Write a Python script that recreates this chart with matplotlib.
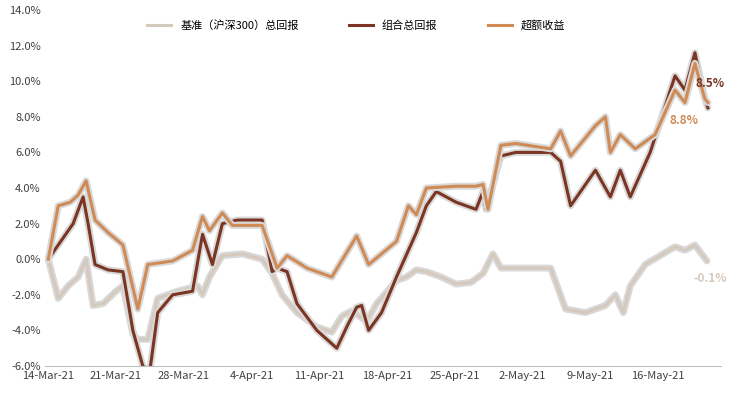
import matplotlib.pyplot as plt
import matplotlib.dates as mdates
import numpy as np
import datetime as dt

plt.rcParams['font.family'] = ['Noto Sans CJK SC', 'DejaVu Sans']

start = dt.datetime(2021, 3, 14)

# pixel positions -> day offsets
bench_px = [50,60,70,80,88,95,105,118,125,135,140,150,160,180,200,205,212,225,245,265,275,285,300,320,335,345,355,370,380,400,410,420,430,445,460,475,487,497,505,540,555,570,590,610,620,628,635,650,665,680,690,700,712]
bench = [0,-2.2,-1.5,-1.0,0,-2.6,-2.5,-1.8,-1.5,-4.2,-4.5,-4.5,-2.2,-1.8,-1.5,-2.0,-1.0,0.2,0.3,0.0,-0.8,-2.0,-3.0,-3.8,-4.1,-3.2,-2.9,-3.5,-2.5,-1.2,-1.0,-0.6,-0.7,-1.0,-1.4,-1.3,-0.8,0.3,-0.5,-0.5,-0.5,-2.8,-3.0,-2.6,-2.0,-3.0,-1.5,-0.3,0.2,0.7,0.5,0.8,-0.1]

combo_px = [50,60,75,85,90,97,110,125,135,145,152,160,175,195,205,215,225,240,265,275,280,290,300,320,340,350,360,365,372,385,400,420,430,440,460,480,487,490,505,520,555,565,575,600,615,625,635,655,680,690,700,710,713]
combo = [0,0.8,2.0,3.5,2.0,-0.3,-0.6,-0.7,-4.0,-6.0,-6.3,-3.0,-2.0,-1.8,1.4,-0.3,2.0,2.2,2.2,-0.7,-0.5,-0.7,-2.5,-4.0,-5.0,-3.8,-2.7,-2.6,-4.0,-3.0,-1.0,1.5,3.0,3.8,3.2,2.8,3.8,2.8,5.8,6.0,6.0,5.5,3.0,5.0,3.5,5.0,3.5,6.0,10.3,9.5,11.6,9.0,8.5]

excess_px = [50,60,72,80,88,97,110,125,140,150,175,195,205,212,225,235,265,280,290,310,335,360,372,400,412,420,430,460,480,487,492,505,520,555,565,575,600,610,615,625,640,660,680,690,700,710,713]
excess = [0,3.0,3.2,3.6,4.4,2.2,1.5,0.8,-2.8,-0.3,-0.1,0.5,2.4,1.6,2.6,1.9,1.9,-0.5,0.2,-0.5,-1.0,1.3,-0.3,1.0,3.0,2.5,4.0,4.1,4.1,4.2,2.8,6.4,6.5,6.2,7.2,5.8,7.5,8.0,6.0,7.0,6.2,7.0,9.5,8.8,11.0,9.0,8.8]

def to_dates(px):
    return [start + dt.timedelta(days=(p - 50) / 9.73) for p in px]

c_bench = '#d5c9bd'
c_combo = '#7b3522'
c_excess = '#d08a55'
halo = '#d9d9d9'

fig, ax = plt.subplots(figsize=(7.32, 4.0), dpi=100)
fig.subplots_adjust(left=0.062, right=0.985, top=0.975, bottom=0.085)

for px, ys, col, lab in [(bench_px, bench, c_bench, '基准（沪深300）总回报'),
                         (combo_px, combo, c_combo, '组合总回报'),
                         (excess_px, excess, c_excess, '超额收益')]:
    d = to_dates(px)
    ax.plot(d, ys, color=halo, lw=5, solid_joinstyle='round', solid_capstyle='round')
    ax.plot(d, ys, color=col, lw=2.2, label=lab, solid_joinstyle='round')

ax.set_ylim(-6, 14)
ax.set_yticks(np.arange(-6, 15, 2))
ax.set_yticklabels([f'{v:.1f}%' for v in np.arange(-6, 15, 2)])
ax.set_xlim(start - dt.timedelta(days=0.3), dt.datetime(2021, 5, 22, 12))
ax.xaxis.set_major_locator(mdates.DayLocator(bymonthday=None, interval=7))
ticks = [start + dt.timedelta(days=7 * i) for i in range(10)]
ax.set_xticks(ticks)
ax.set_xticklabels([f'{t.day}-{t.strftime("%b")}-21' for t in ticks])
ax.tick_params(labelsize=8, colors='#404040', length=0)
for s in ['top', 'right', 'left']:
    ax.spines[s].set_visible(False)
ax.spines['bottom'].set_color('#bfbfbf')

end = dt.datetime(2021, 5, 21, 9)
ax.text(end, 9.7, '8.5%', color=c_combo, fontsize=8.5, fontweight='bold', ha='center')
ax.text(dt.datetime(2021, 5, 18, 16), 7.6, '8.8%', color=c_excess, fontsize=8.5, fontweight='bold', ha='center')
ax.text(end, -1.3, '-0.1%', color=c_bench, fontsize=8.5, fontweight='bold', ha='center')

ax.legend(loc='upper center', bbox_to_anchor=(0.46, 1.0), ncol=3, frameon=False,
          fontsize=8, handlelength=2.2, columnspacing=4.5)

fig.savefig('out.png')
